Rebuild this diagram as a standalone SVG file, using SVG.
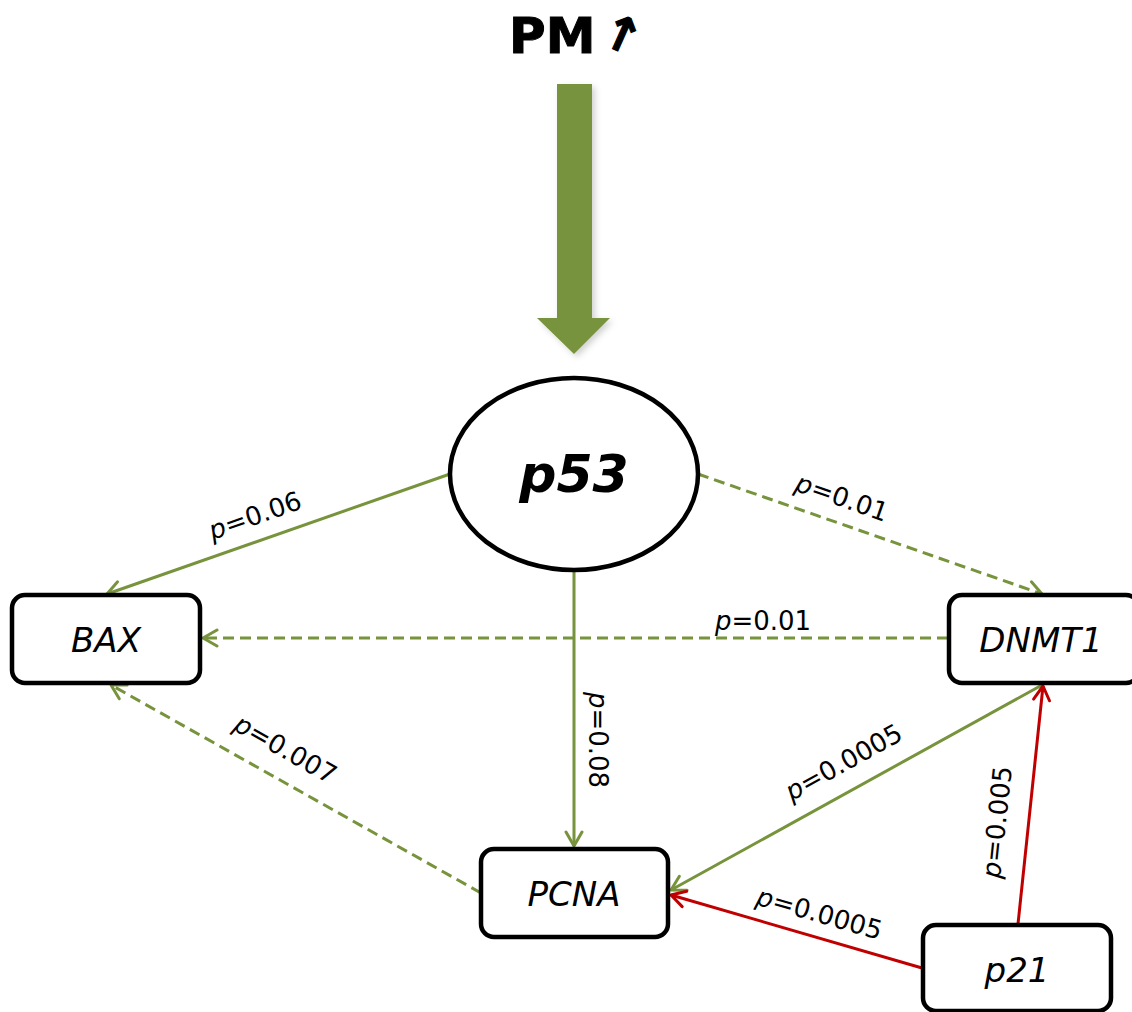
<svg xmlns="http://www.w3.org/2000/svg" width="1132" height="1012" viewBox="0 0 1132 1012">
  <defs>
    <style>
      .node { fill: #fff; stroke: #000; stroke-width: 4.5; }
      .ntext { font-family: "DejaVu Sans", "Liberation Sans", sans-serif; font-style: italic; font-size: 34px; fill: #000; text-anchor: middle; }
      .lbl { font-family: "DejaVu Sans", "Liberation Sans", sans-serif; font-size: 26px; fill: #000; text-anchor: middle; }
      .lbl .it { font-style: italic; }
      .g { stroke: #77933C; stroke-width: 3; fill: none; }
      .r { stroke: #C00000; stroke-width: 3; fill: none; }
      .dash { stroke-dasharray: 11 6; }
      .ga { marker-end: url(#arrG); }
      .ra { marker-end: url(#arrR); }
    </style>
    <marker id="arrG" viewBox="0 0 20 20" refX="18" refY="10" markerWidth="20" markerHeight="20" markerUnits="userSpaceOnUse" orient="auto">
      <path d="M4 2 L18 10 L4 18" fill="none" stroke="#77933C" stroke-width="3" stroke-linecap="round" stroke-linejoin="round"/>
    </marker>
    <marker id="arrR" viewBox="0 0 20 20" refX="18" refY="10" markerWidth="20" markerHeight="20" markerUnits="userSpaceOnUse" orient="auto">
      <path d="M4 2 L18 10 L4 18" fill="none" stroke="#C00000" stroke-width="3" stroke-linecap="round" stroke-linejoin="round"/>
    </marker>
    <filter id="soft" x="-30%" y="-10%" width="160%" height="120%">
      <feDropShadow dx="3" dy="3" stdDeviation="3" flood-color="#000" flood-opacity="0.18"/>
    </filter>
  </defs>

  <!-- heading and exposure arrow -->
  <g id="pm">
    <text x="509" y="53" font-family="DejaVu Sans, Liberation Sans, sans-serif" font-weight="bold" font-size="50" stroke="#000" stroke-width="1">PM</text>
    <text x="0" y="0" transform="translate(615 50) rotate(24)" font-family="DejaVu Sans, Liberation Sans, sans-serif" font-weight="bold" font-size="48" text-anchor="middle" stroke="#000" stroke-width="1.2">↑</text>
  </g>
  <g id="exposure">
    <path d="M557 84 H592 V318 H610 L574 354 L537 318 H557 Z" fill="#77933C" filter="url(#soft)"/>
  </g>

  <!-- connectors -->
  <g id="connectors">
    <line class="g ga" x1="450" y1="474" x2="107" y2="594"/>
    <line class="g dash ga" x1="698" y1="474" x2="1042" y2="594"/>
    <line class="g dash ga" x1="948" y1="638" x2="203" y2="638"/>
    <line class="g ga" x1="574" y1="570" x2="574" y2="846"/>
    <line class="g ga" x1="1042" y1="685" x2="671" y2="890"/>
    <line class="g dash ga" x1="481" y1="893" x2="111" y2="685"/>
    <line class="r ra" x1="1018" y1="924" x2="1043" y2="686"/>
    <line class="r ra" x1="922" y1="968" x2="671" y2="895"/>

    <text class="lbl" transform="translate(258 524) rotate(-19.3)"><tspan class="it">p</tspan>=0.06</text>
    <text class="lbl" transform="translate(839 506) rotate(19.2)"><tspan class="it">p</tspan>=0.01</text>
    <text class="lbl" x="763" y="630"><tspan class="it">p</tspan>=0.01</text>
    <text class="lbl" transform="translate(589 740) rotate(90)"><tspan class="it">p</tspan>=0.08</text>
    <text class="lbl" transform="translate(848 770) rotate(-29)"><tspan class="it">p</tspan>=0.0005</text>
    <text class="lbl" transform="translate(281 757) rotate(29.5)"><tspan class="it">p</tspan>=0.007</text>
    <text class="lbl" transform="translate(1006 823) rotate(-84)"><tspan class="it">p</tspan>=0.005</text>
    <text class="lbl" transform="translate(817 922) rotate(16)"><tspan class="it">p</tspan>=0.0005</text>
  </g>

  <!-- nodes -->
  <g id="p53">
    <ellipse class="node" cx="574" cy="474" rx="124" ry="96"/>
    <text x="574" y="492" font-family="DejaVu Sans, Liberation Sans, sans-serif" font-weight="bold" font-style="italic" font-size="52" text-anchor="middle">p53</text>
  </g>
  <g id="BAX">
    <rect class="node" x="12" y="595" width="188" height="88" rx="13"/>
    <text class="ntext" x="106" y="652">BAX</text>
  </g>
  <g id="DNMT1">
    <rect class="node" x="949" y="595" width="190" height="88" rx="13"/>
    <text class="ntext" x="1041" y="652">DNMT1</text>
  </g>
  <g id="PCNA">
    <rect class="node" x="481" y="849" width="187" height="88" rx="13"/>
    <text class="ntext" x="574" y="906">PCNA</text>
  </g>
  <g id="p21">
    <rect class="node" x="923" y="925" width="188" height="86" rx="13"/>
    <text class="ntext" x="1017" y="982">p21</text>
  </g>
</svg>
